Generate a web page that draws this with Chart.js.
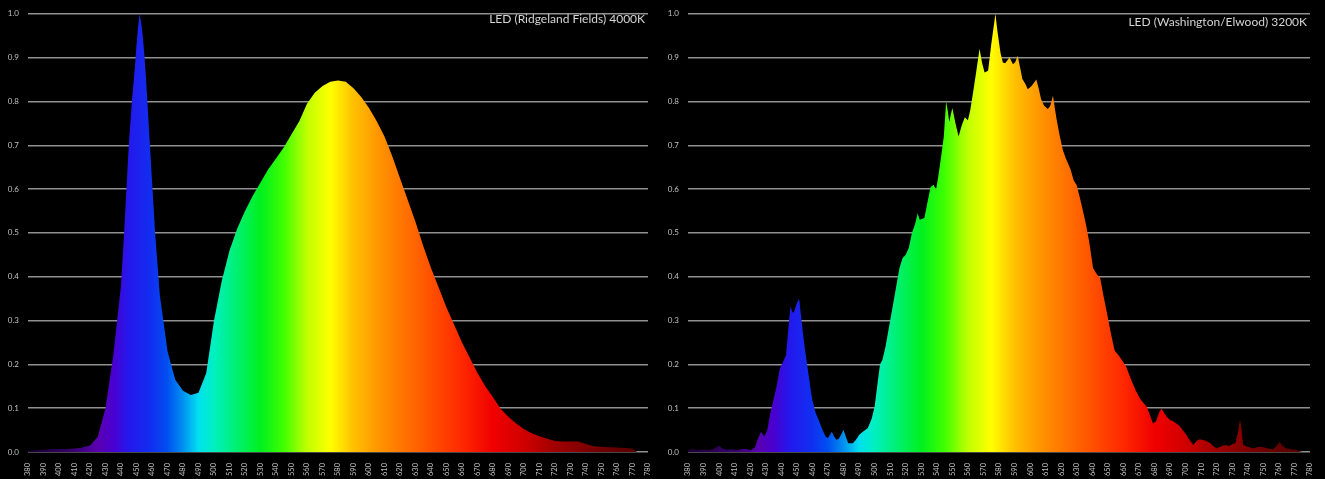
<!DOCTYPE html>
<html>
<head>
<meta charset="utf-8">
<script src="https://cdn.jsdelivr.net/npm/chart.js@4.4.1/dist/chart.umd.min.js"></script>
<style>
  html, body { margin: 0; padding: 0; background: #000; overflow: hidden; }
  canvas { position: absolute; top: 0; background: #000; }
  #leftChart { left: 0; }
  #rightChart { left: 660px; }
</style>
</head>
<body>
<canvas id="leftChart" width="660" height="479"></canvas>
<canvas id="rightChart" width="665" height="479"></canvas>
<script>
// Chart titles
const leftTitle = "LED (Ridgeland Fields) 4000K";
const rightTitle = "LED (Washington/Elwood) 3200K";

// Left spectrum (4000K)
const leftWavelengths = [380, 385, 390, 395, 400, 405, 410, 415, 420, 425, 430, 435, 440, 442, 445, 447, 449, 450, 451, 452, 453, 454, 455, 456, 457, 460, 462, 465, 470, 475, 480, 485, 490, 495, 500, 505, 510, 515, 520, 525, 530, 535, 540, 545, 550, 555, 560, 565, 570, 575, 580, 585, 590, 595, 600, 605, 610, 615, 620, 625, 630, 635, 640, 645, 650, 655, 660, 665, 670, 675, 680, 685, 690, 695, 700, 705, 710, 715, 720, 725, 730, 735, 740, 745, 750, 755, 760, 765, 770, 773];
const leftValues = [0.003, 0.004, 0.005, 0.006, 0.007, 0.007, 0.008, 0.01, 0.015, 0.035, 0.10, 0.22, 0.38, 0.5, 0.7, 0.8, 0.88, 0.93, 0.97, 1.0, 0.98, 0.95, 0.91, 0.86, 0.80, 0.62, 0.5, 0.36, 0.23, 0.165, 0.14, 0.13, 0.135, 0.18, 0.30, 0.39, 0.46, 0.51, 0.55, 0.585, 0.615, 0.645, 0.67, 0.695, 0.725, 0.755, 0.795, 0.82, 0.835, 0.845, 0.848, 0.845, 0.83, 0.81, 0.785, 0.755, 0.72, 0.675, 0.625, 0.575, 0.525, 0.47, 0.42, 0.375, 0.33, 0.29, 0.25, 0.215, 0.18, 0.15, 0.125, 0.098, 0.08, 0.065, 0.052, 0.043, 0.036, 0.03, 0.025, 0.024, 0.024, 0.024, 0.018, 0.013, 0.012, 0.011, 0.01, 0.009, 0.008, 0];

// Right spectrum (3200K)
const rightWavelengths = [380, 383, 386, 390, 393, 396, 400, 402, 405, 408, 411, 414, 417, 420, 423, 425, 427, 429, 431, 433, 435, 437, 439, 441, 443, 445, 446, 447, 448, 450, 451.5, 453, 455, 457, 459, 460, 462, 464, 466, 468.5, 470, 472.5, 474, 475.5, 477, 478.5, 480, 481.5, 483, 486, 488, 490, 492, 495.5, 498, 500, 502, 503.5, 505, 507, 509, 511.5, 514, 516, 518, 520, 522, 524, 526, 527.7, 529, 532, 534, 536, 538, 539.5, 541, 543, 544.5, 546, 547, 548, 549, 550, 552, 554, 556, 558, 560, 561.5, 563, 565, 567.5, 569, 570.7, 573, 575, 577.7, 579, 581, 582.5, 584, 586.8, 589, 590.5, 592, 594, 595, 597, 598.5, 601, 604, 605.5, 607, 609, 611.4, 613, 614.7, 617, 619, 621, 623, 626, 628, 630, 632, 634, 636, 638, 640.5, 643, 645, 647, 650, 652, 654.4, 657, 660, 662, 665, 668, 671, 675, 677, 679, 681, 683, 684.5, 686, 688, 690, 692, 694, 696, 698, 700.6, 702, 705, 707, 709, 712, 715.6, 718, 720, 722, 724, 726, 728, 730, 732, 734, 735, 736, 737, 740, 743.5, 747, 750, 753, 756, 758, 760.6, 762, 765, 768, 771, 773, 775];
const rightValues = [0.004, 0.008, 0.004, 0.006, 0.004, 0.006, 0.014, 0.008, 0.005, 0.006, 0.004, 0.006, 0.007, 0.004, 0.01, 0.03, 0.046, 0.035, 0.05, 0.09, 0.12, 0.15, 0.19, 0.205, 0.22, 0.30, 0.333, 0.32, 0.318, 0.34, 0.35, 0.30, 0.24, 0.19, 0.14, 0.118, 0.09, 0.073, 0.055, 0.035, 0.032, 0.046, 0.035, 0.028, 0.03, 0.04, 0.051, 0.035, 0.02, 0.02, 0.028, 0.039, 0.045, 0.054, 0.075, 0.103, 0.16, 0.20, 0.21, 0.24, 0.28, 0.33, 0.38, 0.42, 0.443, 0.45, 0.466, 0.5, 0.52, 0.545, 0.53, 0.534, 0.57, 0.605, 0.61, 0.598, 0.63, 0.68, 0.72, 0.80, 0.78, 0.753, 0.77, 0.785, 0.75, 0.72, 0.745, 0.764, 0.757, 0.78, 0.813, 0.86, 0.92, 0.89, 0.866, 0.87, 0.93, 1.0, 0.96, 0.91, 0.889, 0.887, 0.90, 0.885, 0.89, 0.904, 0.87, 0.851, 0.84, 0.828, 0.835, 0.85, 0.83, 0.806, 0.79, 0.783, 0.79, 0.813, 0.76, 0.722, 0.69, 0.67, 0.645, 0.62, 0.609, 0.58, 0.55, 0.518, 0.48, 0.42, 0.405, 0.398, 0.36, 0.307, 0.27, 0.231, 0.22, 0.205, 0.193, 0.165, 0.14, 0.12, 0.103, 0.085, 0.065, 0.07, 0.09, 0.099, 0.09, 0.08, 0.073, 0.07, 0.065, 0.06, 0.05, 0.039, 0.03, 0.016, 0.025, 0.029, 0.027, 0.021, 0.013, 0.008, 0.012, 0.014, 0.016, 0.013, 0.018, 0.02, 0.05, 0.074, 0.05, 0.016, 0.012, 0.008, 0.012, 0.011, 0.008, 0.006, 0.012, 0.023, 0.015, 0.008, 0.006, 0.005, 0.002, 0];

// Spectrum colours by wavelength
const spectrumStops = [
  [380, "#1a0030"], [410, "#3a0070"], [425, "#5a00b0"], [435, "#4a00d0"],
  [445, "#2418ec"], [460, "#1030f0"], [470, "#0050f0"], [480, "#0090f0"],
  [490, "#00e0f0"], [500, "#00f0c0"], [515, "#00f070"], [530, "#00f020"],
  [545, "#40ff00"], [560, "#c0ff00"], [575, "#ffff00"], [590, "#ffc000"],
  [605, "#ff9800"], [620, "#ff7800"], [640, "#ff5000"], [660, "#ff2800"],
  [680, "#f00000"], [700, "#d00000"], [720, "#a00000"], [750, "#700000"],
  [780, "#500000"]
];

const xMin = 380, xMax = 780;

function spectrumFill(ctx) {
  const chart = ctx.chart;
  if (!chart.chartArea) return "#fff";
  const x = chart.scales.x;
  const g = chart.ctx.createLinearGradient(x.getPixelForValue(xMin), 0, x.getPixelForValue(xMax), 0);
  spectrumStops.forEach(([wl, c]) => g.addColorStop((wl - xMin) / (xMax - xMin), c));
  return g;
}

// Title in top right corner
const cornerTitle = {
  id: "cornerTitle",
  afterDatasetsDraw(chart, args, opts) {
    const c = chart.ctx;
    c.save();
    c.font = "12px Lato";
    c.fillStyle = "#d4d4d4";
    c.textAlign = "right";
    c.textBaseline = "middle";
    c.fillText(opts.text, chart.chartArea.right - 3, opts.y);
    c.restore();
  }
};

function makeChart(id, wavelengths, values, title, opts) {
  const points = wavelengths.map((w, i) => ({ x: w, y: values[i] }));
  return new Chart(document.getElementById(id), {
    type: "line",
    data: {
      datasets: [{
        data: points,
        fill: "origin",
        backgroundColor: spectrumFill,
        borderWidth: 0,
        pointRadius: 0,
        tension: 0
      }]
    },
    plugins: [cornerTitle],
    options: {
      responsive: false,
      animation: false,
      layout: { padding: { top: opts.top, right: opts.right, left: 0, bottom: 0 } },
      plugins: {
        legend: { display: false },
        tooltip: { enabled: false },
        cornerTitle: { text: title, y: opts.titleY }
      },
      scales: {
        x: {
          type: "linear",
          min: xMin,
          max: xMax,
          grid: { display: false },
          border: { display: false },
          ticks: {
            stepSize: 10,
            autoSkip: false,
            minRotation: 90,
            maxRotation: 90,
            padding: 3,
            color: "#c0c0c0",
            font: { family: "Lato", size: 7.5 }
          },
          afterFit: s => { s.height = 27; }
        },
        y: {
          min: 0,
          max: 1,
          grid: { color: "#909090", lineWidth: 1.5, drawTicks: false },
          border: { display: false },
          ticks: {
            stepSize: 0.1,
            padding: 9,
            color: "#c0c0c0",
            font: { family: "Lato", size: 8 },
            callback: v => v.toFixed(1)
          },
          afterFit: s => { s.width = 28; }
        }
      }
    }
  });
}

makeChart("leftChart", leftWavelengths, leftValues, leftTitle, { top: 9, right: 10, titleY: 19 });
makeChart("rightChart", rightWavelengths, rightValues, rightTitle, { top: 11, right: 15, titleY: 22 });
</script>
</body>
</html>
